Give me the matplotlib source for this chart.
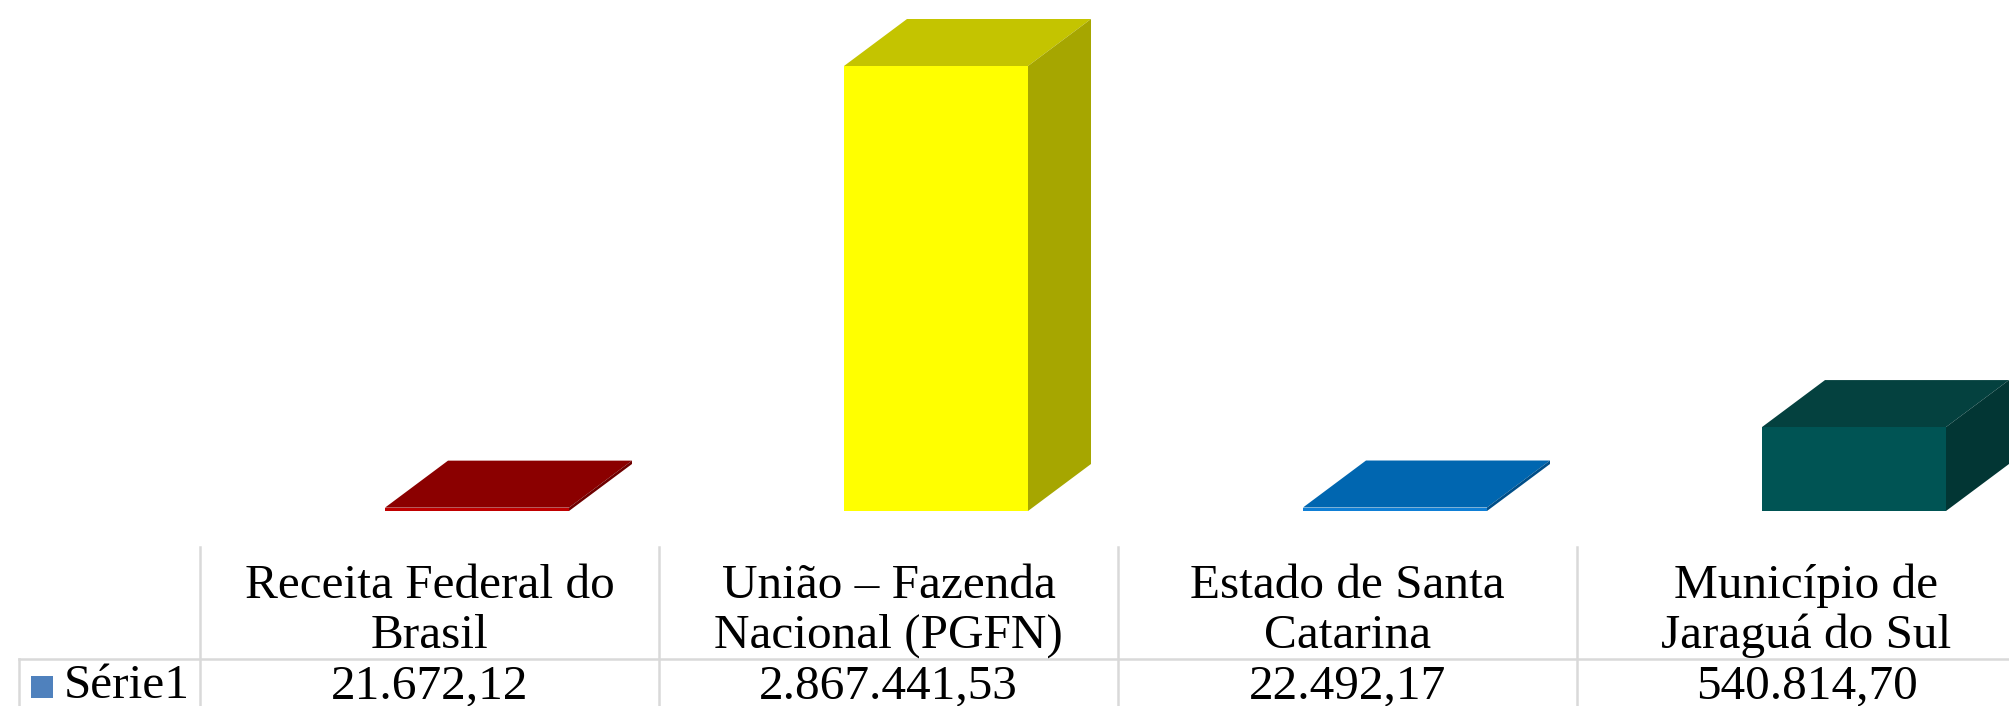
import matplotlib
matplotlib.use('Agg')
import matplotlib.pyplot as plt
from matplotlib.lines import Line2D
from matplotlib.patches import Polygon, Rectangle

# Data
categories = ['Receita Federal do\nBrasil', 'União – Fazenda\nNacional (PGFN)',
              'Estado de Santa\nCatarina', 'Município de\nJaraguá do Sul']
values = [21672.12, 2867441.53, 22492.17, 540814.70]
value_labels = ['21.672,12', '2.867.441,53', '22.492,17', '540.814,70']
series_name = 'Série1'

front_colors = ['#C00000', '#FFFF00', '#0F7FD6', '#005454']
top_colors = ['#8B0000', '#C4C400', '#0066B0', '#04413F']
side_colors = ['#6E0000', '#A6A600', '#004E88', '#023634']

W, H = 2009, 706
plt.rcParams['font.family'] = ['Liberation Serif', 'DejaVu Serif']

fig = plt.figure(figsize=(W / 100, H / 100), dpi=100)
ax = fig.add_axes([0, 0, 1, 1])
ax.axis('off')

# pixel layout of the plot: bar 0 sits at x=477, baseline at y=511
pitch = 459
px_per_value = 445 / values[1]
ax.set_xlim(-477 / pitch, (W - 477) / pitch)
ax.set_ylim(-(H - 511) / px_per_value, 511 / px_per_value)

bar_w = 184 / pitch
dx = 63 / pitch
dy = 47 / px_per_value

# Draw the 3D bars
for i, v in enumerate(values):
    x0 = i - bar_w / 2
    x1 = i + bar_w / 2
    top = [(x0, v), (x1, v), (x1 + dx, v + dy), (x0 + dx, v + dy)]
    side = [(x1, 0), (x1 + dx, dy), (x1 + dx, v + dy), (x1, v)]
    ax.add_patch(Polygon(top, closed=True, fc=top_colors[i], ec='none', zorder=2))
    ax.add_patch(Polygon(side, closed=True, fc=side_colors[i], ec='none', zorder=2))
    ax.bar(i, v, width=bar_w, color=front_colors[i], zorder=3)


def fx(px):
    return px / W


def fy(px):
    return 1 - px / H


# Data table lines
grid = '#D9D9D9'
col_edges = [200, 659, 1118, 1577]
for x in col_edges:
    fig.add_artist(Line2D([fx(x), fx(x)], [fy(547), fy(H)], color=grid, lw=1.8))
fig.add_artist(Line2D([fx(19), fx(19)], [fy(659), fy(H)], color=grid, lw=1.8))
fig.add_artist(Line2D([fx(19), fx(W)], [fy(659), fy(659)], color=grid, lw=1.8))

# Table text
font_size = 35.5
for i, x in enumerate(col_edges):
    center = x + pitch / 2
    line1, line2 = categories[i].split('\n')
    fig.text(fx(center), fy(598), line1, ha='center', va='baseline', fontsize=font_size, color='black')
    fig.text(fx(center), fy(648), line2, ha='center', va='baseline', fontsize=font_size, color='black')
    fig.text(fx(center), fy(698), value_labels[i], ha='center', va='baseline', fontsize=font_size, color='black')

# Legend key
fig.add_artist(Rectangle((fx(31), fy(698)), 22 / W, 22 / H, transform=fig.transFigure,
                         fc='#4F81BD', ec='none'))
fig.text(fx(64), fy(698), series_name, ha='left', va='baseline', fontsize=font_size, color='black')

fig.savefig('out.png', dpi=100, facecolor='white')
